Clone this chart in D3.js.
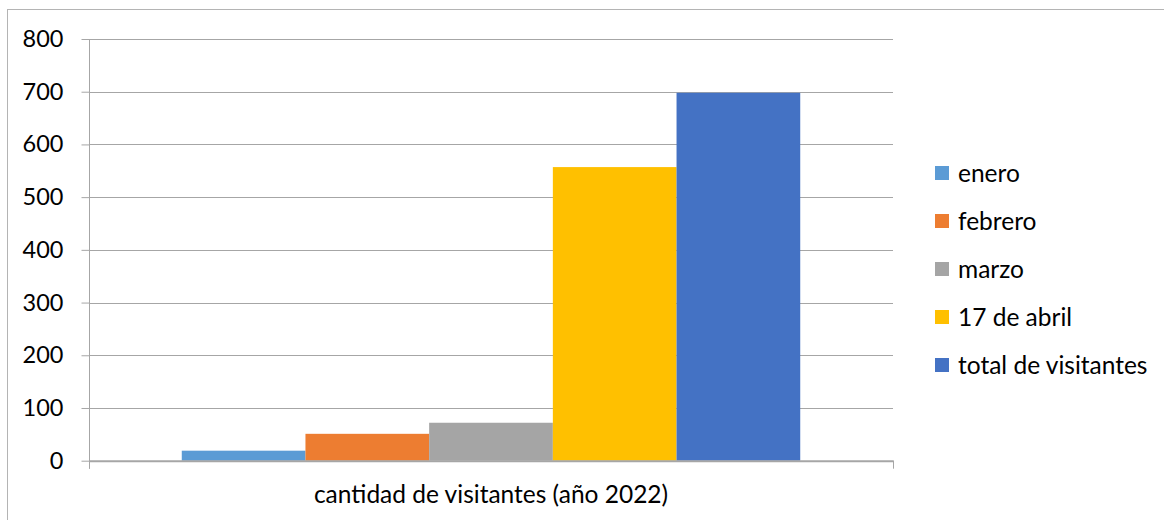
<!DOCTYPE html>
<html>
<head>
<meta charset="utf-8">
<script src="https://cdn.jsdelivr.net/npm/d3@7"></script>
<style>
  body { margin: 0; background: #fff; }
  svg text { font-family: Lato, "Open Sans", sans-serif; fill: #000; }
  .axis path, .axis line { stroke: #a6a6a6; }
</style>
</head>
<body>
<div id="chart"></div>
<script>
const categories = ["cantidad de visitantes (año 2022)"];
const seriesNames = ["enero", "febrero", "marzo", "17 de abril", "total de visitantes"];
const seriesValues = [19, 51, 72, 557, 698];
const seriesColors = ["#5B9BD5", "#ED7D31", "#A5A5A5", "#FFC000", "#4472C4"];
const yTicks = [0, 100, 200, 300, 400, 500, 600, 700, 800];

const W = 1164, H = 520;
const plot = {left: 89, right: 893, top: 39, bottom: 460.7};

const svg = d3.select("#chart").append("svg")
	.attr("width", W)
	.attr("height", H);

// chart frame
svg.append("rect")
	.attr("x", 7.5).attr("y", 9.5)
	.attr("width", W + 20).attr("height", H + 20)
	.attr("fill", "none")
	.attr("stroke", "#b4b4b4");

const y = d3.scaleLinear()
	.domain([0, 800])
	.range([plot.bottom, plot.top]);

const x0 = d3.scaleBand()
	.domain(categories)
	.range([plot.left, plot.right]);

const x1 = d3.scaleBand()
	.domain(seriesNames)
	.range([0, x0.bandwidth()])
	.paddingInner(0)
	.paddingOuter(0.75);

// gridlines
svg.append("g")
	.selectAll("line")
	.data(yTicks.filter(d => d > 0))
	.enter().append("line")
	.attr("x1", plot.left).attr("x2", plot.right)
	.attr("y1", d => Math.round(y(d)) + 0.5)
	.attr("y2", d => Math.round(y(d)) + 0.5)
	.attr("stroke", "#a6a6a6");

// y axis
const yAxis = svg.append("g")
	.attr("class", "axis")
	.attr("transform", "translate(" + (plot.left + 0.5) + ",0)")
	.call(d3.axisLeft(y).tickValues(yTicks).tickSize(8).tickSizeOuter(0).tickFormat(d3.format("d")));
yAxis.selectAll("text")
	.attr("x", -26)
	.style("font-size", "23.5px")
	.style("font-family", "Lato, sans-serif");
yAxis.select(".domain").attr("d", "M0," + plot.top + "V" + (plot.bottom + 8));

// bars
svg.append("g")
	.selectAll("rect")
	.data(seriesNames.map((s, i) => ({name: s, value: seriesValues[i], color: seriesColors[i]})))
	.enter().append("rect")
	.attr("x", d => x0(categories[0]) + x1(d.name))
	.attr("y", d => y(d.value))
	.attr("width", x1.bandwidth())
	.attr("height", d => y(0) - y(d.value))
	.attr("fill", d => d.color);

// category axis with boundary ticks
const xEdge = d3.scaleLinear().domain([0, 1]).range([plot.left, plot.right]);
svg.append("g")
	.attr("class", "axis")
	.attr("transform", "translate(0," + plot.bottom + ")")
	.call(d3.axisBottom(xEdge).tickValues([0, 1]).tickSize(8).tickSizeOuter(0).tickFormat(""))
	.select(".domain").attr("stroke-width", 2);

svg.append("g")
	.attr("transform", "translate(0," + plot.bottom + ")")
	.call(d3.axisBottom(x0).tickSize(0))
	.call(g => g.select(".domain").remove())
	.selectAll("text")
	.attr("y", 25)
	.style("font-size", "24.5px")
	.style("font-family", "Lato, sans-serif");

// legend
const legend = svg.selectAll(".legend")
	.data(seriesNames)
	.enter().append("g")
	.attr("class", "legend")
	.attr("transform", (d, i) => "translate(935," + (173 + i * 48) + ")");

legend.append("rect")
	.attr("x", 0).attr("y", -7)
	.attr("width", 14).attr("height", 14)
	.attr("fill", (d, i) => seriesColors[i]);

legend.append("text")
	.attr("x", 23)
	.attr("dy", "0.35em")
	.style("font-size", "24.5px")
	.text(d => d);
</script>
</body>
</html>
